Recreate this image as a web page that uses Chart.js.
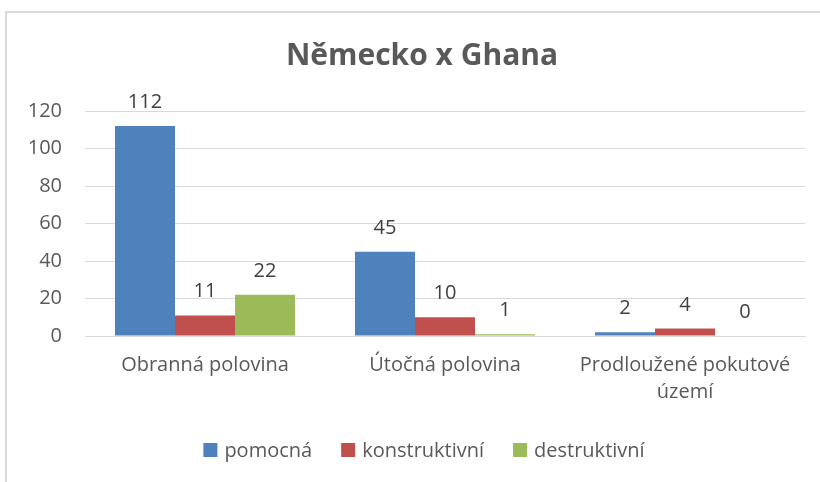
<!DOCTYPE html>
<html>
<head>
<meta charset="utf-8">
<script src="https://cdn.jsdelivr.net/npm/chart.js@4.4.1/dist/chart.umd.min.js"></script>
<style>
  html, body { margin: 0; padding: 0; background: #fff; overflow: hidden; }
  #wrap { position: relative; width: 820px; height: 482px; }
  #frame { position: absolute; left: 5px; top: 11px; width: 840px; height: 520px; border: 2px solid #d9d9d9; box-sizing: border-box; }
  canvas { position: absolute; left: 0; top: 0; }
</style>
</head>
<body>
<div id="wrap">
  <div id="frame"></div>
  <canvas id="c" width="820" height="482"></canvas>
</div>
<script>
const chartTitle = 'Německo x Ghana';
const categories = ['Obranná polovina', 'Útočná polovina', ['Prodloužené pokutové', 'území']];
const pomocna = [112, 45, 2];
const konstruktivni = [11, 10, 4];
const destruktivni = [22, 1, 0];
const yTicks = [0, 20, 40, 60, 80, 100, 120];

const TEXT = '#595959';
const FONT = '"Open Sans", "Noto Sans", sans-serif';

// title centred over the whole frame, above the plot
const frameTitle = {
  id: 'frameTitle',
  afterDraw(chart) {
    const ctx = chart.ctx;
    ctx.save();
    ctx.font = 'bold 30px ' + FONT;
    ctx.fillStyle = TEXT;
    ctx.textAlign = 'center';
    ctx.textBaseline = 'middle';
    ctx.fillText(chartTitle, 422, 56);
    ctx.restore();
  }
};

// value labels above every bar
const valueLabels = {
  id: 'valueLabels',
  afterDatasetsDraw(chart) {
    const ctx = chart.ctx;
    ctx.save();
    ctx.font = '20px ' + FONT;
    ctx.fillStyle = '#404040';
    ctx.textAlign = 'center';
    ctx.textBaseline = 'alphabetic';
    chart.data.datasets.forEach((ds, i) => {
      chart.getDatasetMeta(i).data.forEach((bar, j) => {
        ctx.fillText(String(ds.data[j]), bar.x, bar.y - 18);
      });
    });
    ctx.restore();
  }
};

// legend row centred under the plot
const bottomLegend = {
  id: 'bottomLegend',
  afterDraw(chart) {
    const ctx = chart.ctx;
    ctx.save();
    ctx.font = '20px ' + FONT;
    ctx.textBaseline = 'middle';
    const items = chart.data.datasets.map(ds => ({ text: ds.label, color: ds.backgroundColor }));
    const box = 14, gapText = 7, gapItem = 29;
    const widths = items.map(it => box + gapText + ctx.measureText(it.text).width);
    const total = widths.reduce((a, b) => a + b, 0) + gapItem * (items.length - 1);
    let x = 424 - total / 2;
    const y = 450;
    items.forEach((it, k) => {
      ctx.fillStyle = it.color;
      ctx.fillRect(x, y - box / 2, box, box);
      ctx.fillStyle = TEXT;
      ctx.fillText(it.text, x + box + gapText, y + 1);
      x += widths[k] + gapItem;
    });
    ctx.restore();
  }
};

new Chart(document.getElementById('c'), {
  type: 'bar',
  data: {
    labels: categories,
    datasets: [
      { label: 'pomocná', data: pomocna, backgroundColor: '#4f81bd' },
      { label: 'konstruktivní', data: konstruktivni, backgroundColor: '#c0504d' },
      { label: 'destruktivní', data: destruktivni, backgroundColor: '#9bbb59' }
    ]
  },
  options: {
    responsive: false,
    animation: false,
    layout: { padding: { left: 20, right: 15, top: 111, bottom: 76 } },
    datasets: { bar: { categoryPercentage: 0.75, barPercentage: 1.0 } },
    plugins: {
      legend: { display: false },
      tooltip: { enabled: false },
      title: { display: false }
    },
    scales: {
      x: {
        afterFit(scale) { scale.height = 70; },
        grid: { display: false, drawTicks: false },
        border: { color: '#d9d9d9', width: 1 },
        ticks: { color: TEXT, font: { family: FONT, size: 20, lineHeight: 1.35 }, padding: 16, maxRotation: 0, autoSkip: false }
      },
      y: {
        min: 0, max: 120,
        afterBuildTicks(scale) { scale.ticks = yTicks.map(v => ({ value: v })); },
        afterFit(scale) { scale.width = 65; },
        grid: { color: '#d9d9d9', drawTicks: false },
        border: { display: false },
        ticks: { color: TEXT, font: { family: FONT, size: 20 }, padding: 23 }
      }
    }
  },
  plugins: [valueLabels, bottomLegend, frameTitle]
});
</script>
</body>
</html>
